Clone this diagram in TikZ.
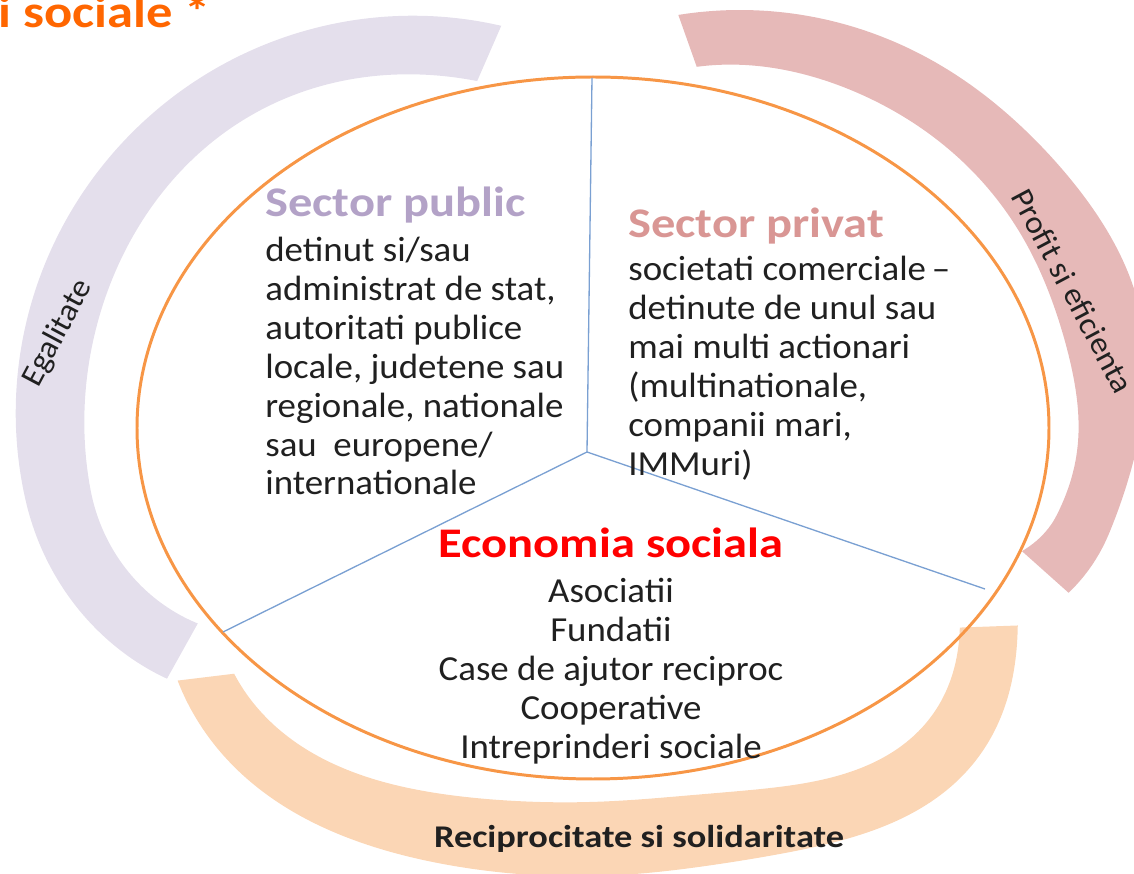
\documentclass[tikz,border=0pt]{standalone}
\usepackage{fontspec}
\setmainfont{Carlito}
\newfontfamily\bodyf{Carlito}[FakeStretch=1.05]
\newfontfamily\headf{Carlito}[FakeStretch=1.15]
\definecolor{lavband}{RGB}{228,223,236}
\definecolor{pinkband}{RGB}{230,185,184}
\definecolor{peachband}{RGB}{251,214,181}
\definecolor{ringorange}{RGB}{247,150,70}
\definecolor{divblue}{RGB}{122,160,210}
\definecolor{bodytext}{RGB}{32,32,32}
\definecolor{pubcol}{RGB}{179,162,199}
\definecolor{privcol}{RGB}{217,150,148}
\definecolor{socred}{RGB}{255,0,0}
\definecolor{titleorange}{RGB}{255,102,0}
\begin{document}
\begin{tikzpicture}[x=0.02cm, y=-0.02cm,
  ring/.style={draw=ringorange, line width=1.7pt},
  divider/.style={draw=divblue, line width=0.75pt},
  body/.style={inner sep=0pt, text=bodytext, font=\bodyf\fontsize{20}{22.1}\selectfont},
  head/.style={inner sep=0pt, font=\headf\bfseries\fontsize{24}{28}\selectfont},
  arclabel/.style={inner sep=0pt, text=bodytext, font=\bodyf\fontsize{18}{21}\selectfont}]
\useasboundingbox (0,0) rectangle (1134,874);
\clip (0,0) rectangle (1134,874);

% bands (polar outlines around their own centres)
\begin{scope}[shift={(430,430)}]
\fill[lavband] plot[domain=80:223.4, samples=90, smooth] (-\x:{421-0.0035*pow(\x-135,2)-0.0284*pow(max(\x-190,0),2)})
  -- plot[domain=219.8:82.3, samples=90, smooth] (-\x:{344+18*exp(-1*pow((\x-118)/40,2))-0.047*pow(max(\x-190,0),2)}) -- cycle;
\end{scope}
\begin{scope}[shift={(740,400)}]
\fill[pinkband] plot[domain=-99.1:30.4, samples=90, smooth] (\x:{390+20*exp(-1*pow((\x+12)/22,2))-0.088*pow(max(\x-20,0),2)})
  -- plot[domain=28.2:-97.4, samples=90, smooth] (\x:{326+15*exp(-1*pow((\x-10)/18,2))+10*exp(-1*pow((\x+97)/25,2))-0.17*pow(max(\x-20,0),2)}) -- cycle;
\end{scope}
\begin{scope}[shift={(600,480)}]
\fill[peachband] plot[domain=154.6:19.2, samples=100, smooth] (\x:{391+78*exp(-1*pow((\x-36)/26,2))+78*exp(-1*pow((\x-150)/34.7,2))})
  -- plot[domain=22.3:152.1, samples=100, smooth] (\x:{316+91*exp(-1*pow((\x-35)/27,2))+98*exp(-1*pow((\x-152)/35,2))}) -- cycle;
\end{scope}

% ring and dividers
\draw[ring] (593,428) ellipse [x radius=456, y radius=351];
\coordinate (hub) at (587,452);
\coordinate (topend) at (592,78);
\coordinate (leftend) at (223,632);
\coordinate (rightend) at (985,589);
\draw[divider] (hub) -- (topend);
\draw[divider] (hub) -- (leftend);
\draw[divider] (hub) -- (rightend);

% title
\node[anchor=base west, inner sep=0pt, text=titleorange, font=\headf\bfseries\fontsize{26}{30}\selectfont] (title) at (-2,28) {i sociale *};

% sector public
\node[head, text=pubcol, anchor=base west] (pubhead) at (265,217) {Sector public};
\node[body, anchor=base west] (pubbody) at (265,262) {\parbox[t]{7cm}{\raggedright detinut si/sau\\administrat de stat,\\autoritati publice\\locale, judetene sau\\regionale, nationale\\sau\ \ europene/\\internationale}};

% sector privat
\node[head, text=privcol, anchor=base west] (privhead) at (628,238) {Sector privat};
\node[body, anchor=base west] (privbody) at (628,281) {\parbox[t]{7cm}{\raggedright societati comerciale\,–\\detinute de unul sau\\mai multi actionari\\(multinationale,\\companii mari,\\IMMuri)}};

% economia sociala
\node[head, text=socred, anchor=base] (sochead) at (611,558) {Economia sociala};
\node[body, anchor=base] (socbody) at (611,603) {\parbox[t]{8cm}{\centering Asociatii\\Fundatii\\Case de ajutor reciproc\\Cooperative\\Intreprinderi sociale}};

% band labels
\node[arclabel, rotate=62] (egal) at (58,333) {Egalitate};
\node[arclabel, rotate=-62] (profit) at (1073,291) {Profit si eficienta};
\node[inner sep=0pt, text=bodytext, font=\headf\bfseries\fontsize{18}{21}\selectfont, anchor=base] (recip) at (639,848) {Reciprocitate si solidaritate};
\end{tikzpicture}
\end{document}
